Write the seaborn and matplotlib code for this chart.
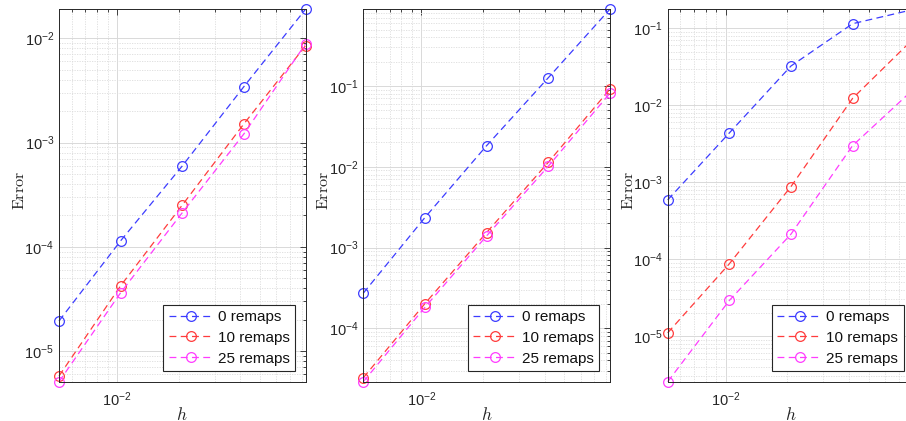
import numpy as np
import pandas as pd
import matplotlib
matplotlib.use("Agg")
import matplotlib.pyplot as plt
import seaborn as sns
from matplotlib.ticker import LogLocator, LogFormatterMathtext, NullFormatter

sns.set_theme(style="white")
plt.rcParams["font.family"] = ["Liberation Sans", "DejaVu Sans"]
plt.rcParams["mathtext.fontset"] = "custom"
plt.rcParams["mathtext.rm"] = "Liberation Sans"
plt.rcParams["mathtext.it"] = "Liberation Sans:italic"
plt.rcParams["mathtext.bf"] = "Liberation Sans:bold"

# Mesh sizes
h = [1 / 192, 1 / 96, 1 / 48, 1 / 24, 1 / 12]

series_names = ["0 remaps", "10 remaps", "25 remaps"]
series_colors = ["#3c3cff", "#ff3c3c", "#ff3cff"]

# Panel 1 errors
p1_r0 = [1.94e-5, 1.14e-4, 5.96e-4, 3.44e-3, 1.90e-2]
p1_r10 = [5.75e-6, 4.22e-5, 2.51e-4, 1.51e-3, 8.49e-3]
p1_r25 = [5.07e-6, 3.62e-5, 2.12e-4, 1.21e-3, 8.82e-3]

# Panel 2 errors
p2_r0 = [2.72e-4, 2.35e-3, 1.82e-2, 1.26e-1, 8.90e-1]
p2_r10 = [2.44e-5, 2.02e-4, 1.53e-3, 1.13e-2, 9.10e-2]
p2_r25 = [2.18e-5, 1.82e-4, 1.39e-3, 1.01e-2, 8.10e-2]

# Panel 3 errors
p3_r0 = [5.89e-4, 4.37e-3, 3.24e-2, 1.15e-1, 1.77e-1]
p3_r10 = [1.10e-5, 8.69e-5, 8.77e-4, 1.23e-2, 7.50e-2]
p3_r25 = [2.55e-6, 2.90e-5, 2.11e-4, 2.99e-3, 1.65e-2]

panels = [
    [p1_r0, p1_r10, p1_r25],
    [p2_r0, p2_r10, p2_r25],
    [p3_r0, p3_r10, p3_r25],
]

W, H = 906, 421
fig = plt.figure(figsize=(W / 100, H / 100), dpi=100)

ax_lefts = [59, 363.3, 667.7]
ax_w, ax_top, ax_bot = 246.5, 9.3, 381.7
ax_h = ax_bot - ax_top
ink = "#262626"

for left, data in zip(ax_lefts, panels):
    ax = fig.add_axes([left / W, 1 - ax_bot / H, ax_w / W, ax_h / H])
    ax.set_facecolor("white")
    for name, color, vals in zip(series_names, series_colors, data):
        df = pd.DataFrame({"h": h, "err": vals})
        sns.lineplot(data=df, x="h", y="err", ax=ax, color=color,
                     linestyle=(0, (5.5, 3.5)), linewidth=0.9, marker="o",
                     markersize=7, markerfacecolor="none",
                     markeredgecolor=color, markeredgewidth=0.9,
                     label=name, clip_on=False)
    ax.set_xscale("log")
    ax.set_yscale("log")
    ax.set_xlim(h[0], h[-1])
    allv = np.concatenate([np.asarray(v) for v in data])
    ax.set_ylim(allv.min(), allv.max())

    for axis in (ax.xaxis, ax.yaxis):
        axis.set_major_locator(LogLocator(base=10, numticks=20))
        axis.set_minor_locator(LogLocator(base=10, subs=np.arange(2, 10), numticks=20))
        axis.set_major_formatter(LogFormatterMathtext())
        axis.set_minor_formatter(NullFormatter())

    ax.grid(which="major", color="#d9d9d9", linestyle="-", linewidth=0.7)
    ax.grid(which="minor", color="#dcdcdc", linestyle=(0, (1.5, 1.5)), linewidth=0.6)
    ax.set_axisbelow(True)
    ax.tick_params(which="both", direction="in", top=True, right=True,
                   colors=ink, labelcolor=ink, labelsize=10.5, width=0.6)
    ax.tick_params(which="major", length=4)
    ax.tick_params(which="minor", length=2)
    ax.tick_params(axis="x", pad=6)
    for sp in ax.spines.values():
        sp.set_color(ink)
        sp.set_linewidth(0.7)
        sp.set_visible(True)

    ax.set_ylabel(r"$\mathrm{Error}$", math_fontfamily="cm", fontsize=11.5, color=ink)
    ax.yaxis.set_label_coords(-0.13, (ax_bot - 190) / ax_h)
    ax.set_xlabel(r"$h$", math_fontfamily="cm", fontsize=12.5, color=ink)
    ax.xaxis.set_label_coords(0.5, (ax_bot - 405.5) / ax_h)

    leg = ax.legend(loc="lower right", fontsize=11, frameon=True, fancybox=False,
                    handlelength=2.9, handletextpad=0.3, borderpad=0.35,
                    labelspacing=0.45, borderaxespad=0.7)
    frame = leg.get_frame()
    frame.set_edgecolor(ink)
    frame.set_linewidth(0.8)
    frame.set_facecolor("white")
    frame.set_alpha(1)
    for t in leg.get_texts():
        t.set_color("#111111")

fig.savefig("out.png", dpi=100)
